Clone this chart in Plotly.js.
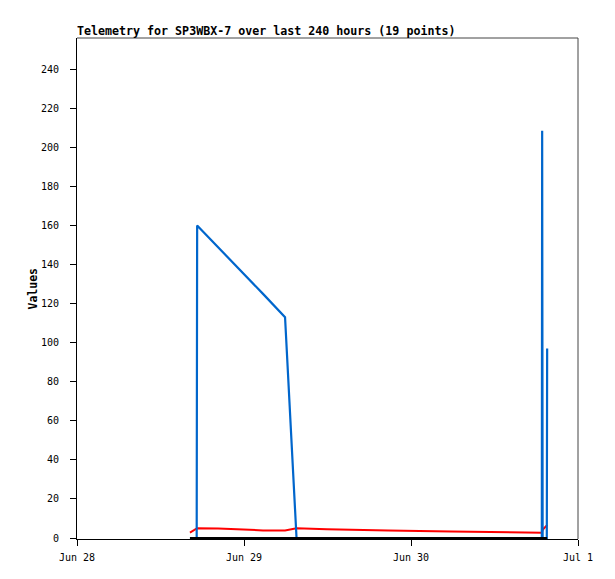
<!DOCTYPE html>
<html>
<head>
<meta charset="utf-8">
<script src="https://cdn.plot.ly/plotly-3.0.1.min.js"></script>
<style>html,body{margin:0;padding:0;background:#fff;}#chart{width:615px;height:579px;}</style>
</head>
<body>
<div id="chart"></div>
<script>
const times = [
  "2024-06-28 16:14", "2024-06-28 17:12", "2024-06-28 17:16", "2024-06-28 20:16",
  "2024-06-28 23:26", "2024-06-29 02:44", "2024-06-29 05:54", "2024-06-29 07:33",
  "2024-06-29 11:56", "2024-06-29 16:00", "2024-06-29 20:42", "2024-06-30 05:45",
  "2024-06-30 09:55", "2024-06-30 14:31", "2024-06-30 18:48", "2024-06-30 18:51",
  "2024-06-30 18:55", "2024-06-30 19:31", "2024-06-30 19:34"
];
const blueValues = [0, 0, 160, 149, 137, 125, 113, 0, 0, 0, 0, 0, 0, 0, 0, 208.5, 0, 0, 97];
const redValues  = [2.8, 4.9, 5.0, 4.9, 4.3, 3.9, 3.8, 5.0, 4.5, 4.4, 3.9, 3.3, 3.2, 2.8, 2.7, 3.5, 4.2, 6.5, 6.7];
const blackValues = [0, 0, 0, 0, 0, 0, 0, 0, 0, 0, 0, 0, 0, 0, 0, 0, 0, 0, 0];
const xTickVals = ["2024-06-28", "2024-06-29", "2024-06-30", "2024-07-01"];
const yTickVals = [0, 20, 40, 60, 80, 100, 120, 140, 160, 180, 200, 220, 240];

const mono = "DejaVu Sans Mono, monospace";

const traces = [
  {x: times, y: redValues, type: "scatter", mode: "lines", line: {color: "#ff0000", width: 2}, hoverinfo: "skip"},
  {x: times, y: blueValues, type: "scatter", mode: "lines", line: {color: "#0066cc", width: 2.2}, hoverinfo: "skip"},
  {x: times, y: blackValues, type: "scatter", mode: "lines", line: {color: "#000000", width: 2}, hoverinfo: "skip"}
];

const layout = {
  width: 615, height: 579,
  margin: {l: 77, r: 37, t: 38, b: 40},
  paper_bgcolor: "#fff", plot_bgcolor: "#fff",
  showlegend: false,
  title: {
    text: "Telemetry for SP3WBX-7 over last 240 hours (19 points)",
    font: {family: mono, size: 11.65, color: "#000", weight: "bold"},
    xref: "container", yref: "container",
    x: 77/615, xanchor: "left",
    y: 1 - 31/579, yanchor: "middle"
  },
  xaxis: {
    type: "date",
    range: ["2024-06-28", "2024-07-01"],
    tickvals: xTickVals,
    tickformat: "%b %-d",
    ticks: "outside", ticklen: 6, tickcolor: "#000", tickwidth: 1,
    ticklabelstandoff: 3,
    showgrid: false, zeroline: false,
    showline: true, linecolor: "#000", linewidth: 1,
    tickfont: {family: mono, size: 10, color: "#000"}
  },
  yaxis: {
    range: [-0.5, 256],
    tickvals: yTickVals,
    ticks: "outside", ticklen: 6, tickcolor: "#000", tickwidth: 1,
    ticklabelstandoff: 9,
    showgrid: false, zeroline: false,
    showline: true, linecolor: "#000", linewidth: 1,
    tickfont: {family: mono, size: 10, color: "#000"}
  },
  shapes: [
    {type: "line", xref: "paper", yref: "paper", x0: 0, x1: 1, y0: 1, y1: 1, line: {color: "#444", width: 1}},
    {type: "line", xref: "paper", yref: "paper", x0: 1, x1: 1, y0: 0, y1: 1, line: {color: "#444", width: 1}}
  ],
  annotations: [
    {text: "Values", textangle: -90, xref: "paper", yref: "paper",
     x: (32 - 77) / 501, y: 0.5, xanchor: "center", yanchor: "middle", showarrow: false,
     font: {family: mono, size: 11.5, color: "#000", weight: "bold"}}
  ]
};

Plotly.newPlot("chart", traces, layout, {staticPlot: true, displayModeBar: false});
</script>
</body>
</html>
